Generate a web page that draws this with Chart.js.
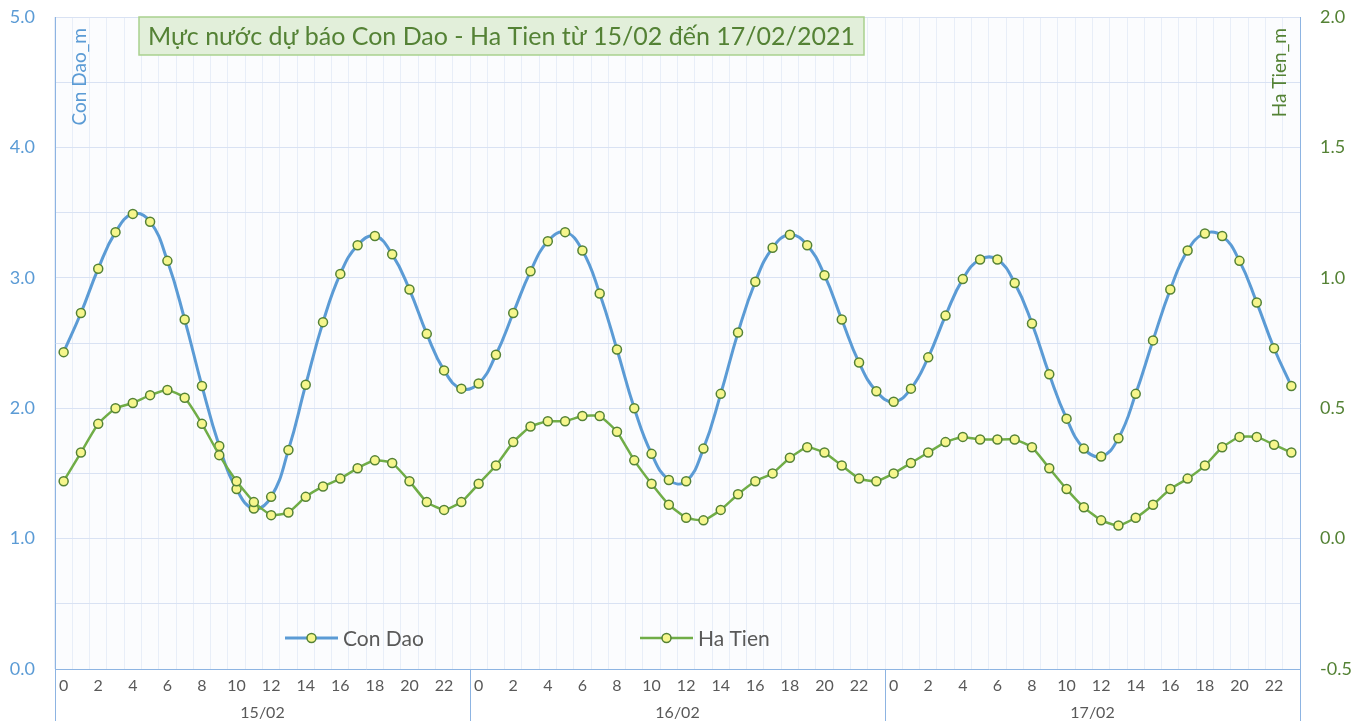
<!DOCTYPE html>
<html>
<head>
<meta charset="utf-8">
<script src="https://cdn.jsdelivr.net/npm/chart.js@4.4.1/dist/chart.umd.min.js"></script>
<style>
  html, body { margin: 0; padding: 0; background: #fff; }
  #wrap { width: 1367px; height: 721px; position: relative; }
</style>
</head>
<body>
<div id="wrap"><canvas id="tide-chart" width="1367" height="721"></canvas></div>
<script>
// ── Data ─────────────────────────────────────────────────────────────────────
const DAYS = ["15/02", "16/02", "17/02"];
const HOURS = ["0","1","2","3","4","5","6","7","8","9","10","11","12","13","14","15","16","17","18","19","20","21","22","23"];

// Con Dao (m), left axis
const CON_DAO = [
  2.43, 2.73, 3.07, 3.35, 3.49, 3.43, 3.13, 2.68, 2.17, 1.71, 1.38, 1.23, 1.32, 1.68, 2.18, 2.66, 3.03, 3.25, 3.32, 3.18, 2.91, 2.57, 2.29, 2.15,
  2.19, 2.41, 2.73, 3.05, 3.28, 3.35, 3.21, 2.88, 2.45, 2.00, 1.65, 1.45, 1.44, 1.69, 2.11, 2.58, 2.97, 3.23, 3.33, 3.25, 3.02, 2.68, 2.35, 2.13,
  2.05, 2.15, 2.39, 2.71, 2.99, 3.14, 3.14, 2.96, 2.65, 2.26, 1.92, 1.69, 1.63, 1.77, 2.11, 2.52, 2.91, 3.21, 3.34, 3.32, 3.13, 2.81, 2.46, 2.17
];

// Ha Tien (m), right axis
const HA_TIEN = [
  0.22, 0.33, 0.44, 0.50, 0.52, 0.55, 0.57, 0.54, 0.44, 0.32, 0.22, 0.14, 0.09, 0.10, 0.16, 0.20, 0.23, 0.27, 0.30, 0.29, 0.22, 0.14, 0.11, 0.14,
  0.21, 0.28, 0.37, 0.43, 0.45, 0.45, 0.47, 0.47, 0.41, 0.30, 0.21, 0.13, 0.08, 0.07, 0.11, 0.17, 0.22, 0.25, 0.31, 0.35, 0.33, 0.28, 0.23, 0.22,
  0.25, 0.29, 0.33, 0.37, 0.39, 0.38, 0.38, 0.38, 0.35, 0.27, 0.19, 0.12, 0.07, 0.05, 0.08, 0.13, 0.19, 0.23, 0.28, 0.35, 0.39, 0.39, 0.36, 0.33
];

const TITLE = "Mực nước dự báo Con Dao - Ha Tien từ 15/02 đến 17/02/2021";
const FONT = "Lato, 'Open Sans', sans-serif";

const BLUE   = "#5b9bd5";
const GREEN  = "#70ad47";
const DGREEN = "#548235";
const MARKER_FILL = "#f6f68c";

// one label per hour, days repeated
const labels = DAYS.flatMap(() => HOURS);

// ── Custom drawing: plot bg, title box, legend, axis titles, day separators ──
const decorPlugin = {
  id: "decor",
  beforeDraw(chart) {
    const { ctx, chartArea: a } = chart;
    ctx.save();
    ctx.fillStyle = "#fbfcfe";
    ctx.fillRect(a.left, a.top, a.right - a.left, a.bottom - a.top);
    ctx.restore();
  },
  afterDraw(chart) {
    const { ctx, chartArea: a } = chart;
    const x = chart.scales.x;
    ctx.save();

    // day separators below the plot
    ctx.strokeStyle = "#8db4e2";
    ctx.lineWidth = 1;
    const dayW = x.width / DAYS.length;
    for (let i = 0; i <= DAYS.length; i++) {
      const px = Math.round(x.left + i * dayW) + 0.5;
      ctx.beginPath();
      ctx.moveTo(px, a.bottom);
      ctx.lineTo(px, chart.height);
      ctx.stroke();
    }

    // title box
    const bx = 139, by = 17, bw = 725, bh = 38;
    ctx.fillStyle = "#e2efda";
    ctx.fillRect(bx, by, bw, bh);
    ctx.strokeStyle = "#a9d18e";
    ctx.lineWidth = 1.5;
    ctx.strokeRect(bx, by, bw, bh);
    ctx.fillStyle = DGREEN;
    ctx.font = `25px ${FONT}`;
    ctx.textAlign = "center";
    ctx.textBaseline = "middle";
    ctx.fillText(TITLE, bx + bw / 2, by + bh / 2 + 1);

    // axis titles (inside plot, rotated)
    ctx.font = `19px ${FONT}`;
    ctx.textAlign = "right";
    ctx.textBaseline = "middle";
    ctx.save();
    ctx.translate(80, 28);
    ctx.rotate(-Math.PI / 2);
    ctx.fillStyle = BLUE;
    ctx.fillText("Con Dao_m", 0, 0);
    ctx.restore();
    ctx.save();
    ctx.translate(1280, 28);
    ctx.rotate(-Math.PI / 2);
    ctx.fillStyle = DGREEN;
    ctx.fillText("Ha Tien_m", 0, 0);
    ctx.restore();

    // legend
    const items = [
      { x: 285, text: "Con Dao", ds: chart.data.datasets[0] },
      { x: 640, text: "Ha Tien", ds: chart.data.datasets[1] },
    ];
    const ly = 638;
    items.forEach(it => {
      ctx.strokeStyle = it.ds.borderColor;
      ctx.lineWidth = it.ds.borderWidth;
      ctx.beginPath();
      ctx.moveTo(it.x, ly);
      ctx.lineTo(it.x + 53, ly);
      ctx.stroke();
      ctx.beginPath();
      ctx.arc(it.x + 26.5, ly, it.ds.pointRadius, 0, Math.PI * 2);
      ctx.fillStyle = it.ds.pointBackgroundColor;
      ctx.fill();
      ctx.lineWidth = it.ds.pointBorderWidth;
      ctx.strokeStyle = it.ds.pointBorderColor;
      ctx.stroke();
      ctx.fillStyle = "#595959";
      ctx.font = `21px ${FONT}`;
      ctx.textAlign = "left";
      ctx.textBaseline = "middle";
      ctx.fillText(it.text, it.x + 58, ly + 1);
    });

    ctx.restore();
  },
};

// fixed-size value axes; label overflow is not reserved above/below
const fixAxis = width => scale => {
  scale.width = width;
  scale.paddingTop = 0;
  scale.paddingBottom = 0;
};

// ── Chart ────────────────────────────────────────────────────────────────────
new Chart(document.getElementById("tide-chart"), {
  type: "line",
  data: {
    labels,
    datasets: [
      {
        label: "Con Dao",
        data: CON_DAO,
        yAxisID: "y",
        xAxisID: "x",
        borderColor: BLUE,
        borderWidth: 3,
        tension: 0.45,
        pointRadius: 4.5,
        pointBackgroundColor: MARKER_FILL,
        pointBorderColor: DGREEN,
        pointBorderWidth: 1.5,
        order: 1,
      },
      {
        label: "Ha Tien",
        data: HA_TIEN,
        yAxisID: "y2",
        xAxisID: "x",
        borderColor: GREEN,
        borderWidth: 2.5,
        tension: 0.15,
        pointRadius: 4.5,
        pointBackgroundColor: MARKER_FILL,
        pointBorderColor: DGREEN,
        pointBorderWidth: 1.5,
        order: 0,
      },
    ],
  },
  options: {
    responsive: false,
    devicePixelRatio: 1,
    animation: false,
    layout: { padding: { top: 17, left: 0, right: 0, bottom: 0 } },
    plugins: { legend: { display: false }, tooltip: { enabled: false } },
    scales: {
      x: {
        type: "category",
        position: "bottom",
        offset: true,
        grid: { offset: true, color: "#e8eef8", drawTicks: false },
        border: { color: "#8db4e2" },
        ticks: {
          autoSkip: false,
          maxRotation: 0,
          padding: 7,
          color: "#595959",
          font: { family: FONT, size: 16 },
          callback(value, index) { return index % 2 === 0 ? this.getLabelForValue(value) : ""; },
        },
        afterFit(scale) { scale.height = 26; },
      },
      x2: {
        type: "category",
        position: "bottom",
        labels: DAYS,
        offset: true,
        grid: { display: false, drawTicks: false },
        border: { display: false },
        ticks: { padding: 8, color: "#595959", font: { family: FONT, size: 16 } },
        afterFit(scale) { scale.height = 26; },
      },
      y: {
        position: "left",
        min: 0,
        max: 5,
        grid: { color: "#d9e2f3", drawTicks: false },
        border: { color: "#8db4e2" },
        ticks: {
          stepSize: 0.5,
          padding: 20,
          color: BLUE,
          font: { family: FONT, size: 18 },
          callback: v => (Math.abs(v - Math.round(v)) < 1e-9 ? v.toFixed(1) : ""),
        },
        afterFit: fixAxis(55),
      },
      y2: {
        position: "right",
        min: -0.5,
        max: 2,
        grid: { drawOnChartArea: false, drawTicks: false },
        border: { color: "#8db4e2" },
        ticks: {
          stepSize: 0.5,
          padding: 20,
          color: DGREEN,
          font: { family: FONT, size: 18 },
          callback: v => v.toFixed(1),
        },
        afterFit: fixAxis(67),
      },
    },
  },
  plugins: [decorPlugin],
});
</script>
</body>
</html>
